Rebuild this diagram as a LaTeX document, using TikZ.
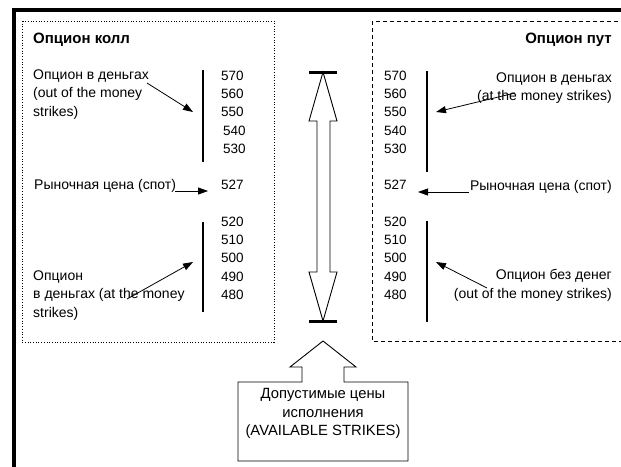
\documentclass[tikz,border=0pt]{standalone}
\usepackage{fontspec}
\setmainfont{Liberation Sans}
\usetikzlibrary{arrows.meta,calc}
\tikzset{
  opt title/.style={font=\fontsize{15}{18.4}\selectfont\bfseries, inner sep=0pt},
  opt text/.style={font=\fontsize{14}{18.4}\selectfont, inner sep=0pt},
  strike/.style={font=\fontsize{13.5}{18.4}\selectfont, inner sep=0pt, anchor=base west},
  strike rule/.style={line width=1.1pt},
  opt arrow/.style={-{Triangle[length=10pt,width=7pt]}, line width=0.8pt},
  call box/.style={dotted, line width=0.7pt},
  put box/.style={dash pattern=on 4pt off 3pt, line width=0.9pt},
  range bar/.style={line width=3pt},
  block/.style={line width=0.9pt, fill=white, line join=miter},
}

\begin{document}
\begin{tikzpicture}[x=1pt, y=-1pt]
  \clip (0,0) rectangle (621,466);
  \fill[white] (0,0) rectangle (621,466);

  % --- outer frame, only its top and left edges are in view ---
  \draw[line width=4pt] (14,9.5) rectangle (700,560);

  % --- call side ---
  \draw[call box] (22,21) rectangle (274,342);
  \node[opt title, anchor=base west] (calltitle) at (33,43) {Опцион колл};

  \foreach \v/\x/\y in {570/221/80, 560/221/98.4, 550/221/116.8, 540/223/135.2, 530/223/153.6,
                        527/221/189, 520/221/226, 510/221/244.4, 500/221/262.8, 490/221/281.2, 480/221/299.6}
    \node[strike] (c\v) at (\x,\y) {\v};

  \coordinate (cuptop) at (203,70);
  \coordinate (cupbot) at (203,162);
  \coordinate (clowtop) at (203,222);
  \coordinate (clowbot) at (203,312);
  \draw[strike rule] (cuptop) -- (cupbot);
  \draw[strike rule] (clowtop) -- (clowbot);

  \node[opt text, align=left, anchor=north west] (callotm) at (33,69.5)
    {Опцион в деньгах\\(out of the money\\strikes)};
  \node[opt text, anchor=base west] (callspot) at (34,189) {Рыночная цена (спот)};
  \node[opt text, align=left, anchor=north west] (callatm) at (33,270.5)
    {Опцион\\в деньгах (at the money\\strikes)};

  \coordinate (cotmtip) at (193,112);
  \coordinate (cspottip) at (208,191);
  \coordinate (catmtip) at (193,262);
  \draw[opt arrow] ($(callotm.north east)+(-2,13.5)$) -- (cotmtip);
  \draw[opt arrow] ($(callspot.base east)+(-1,2)$) -- (cspottip);
  \draw[opt arrow] ($(callatm.north west)+(94,28.5)$) -- (catmtip);

  % --- put side ---
  \draw[put box] (372,21) rectangle (700,341);
  \node[opt title, anchor=base east] (puttitle) at (612,43) {Опцион пут};

  \foreach \v/\y in {570/80, 560/98.4, 550/116.8, 540/135.2, 530/153.6,
                     527/189, 520/226, 510/244.4, 500/262.8, 490/281.2, 480/299.6}
    \node[strike] (p\v) at (384,\y) {\v};

  \coordinate (puptop) at (427,71);
  \coordinate (pupbot) at (427,172);
  \coordinate (plowtop) at (427,221);
  \coordinate (plowbot) at (427,322);
  \draw[strike rule] (puptop) -- (pupbot);
  \draw[strike rule] (plowtop) -- (plowbot);

  \node[opt text, align=right, anchor=north east] (putitm) at (612,72.5)
    {Опцион в деньгах\\(at the money strikes)};
  \node[opt text, anchor=base east] (putspot) at (612,190) {Рыночная цена (спот)};
  \node[opt text, align=right, anchor=north east] (putotm) at (612,269.5)
    {Опцион без денег\\(out of the money strikes)};

  \coordinate (pitmtip) at (436,112);
  \coordinate (pspottip) at (418,192);
  \coordinate (potmtip) at (436,262);
  \draw[opt arrow] ($(putitm.north east)+(-97,20.5)$) -- (pitmtip);
  \draw[opt arrow] ($(putspot.base west)+(-1,2)$) -- (pspottip);
  \draw[opt arrow] ($(putotm.north east)+(-125,18.5)$) -- (potmtip);

  % --- range of strikes: hollow double arrow between two bars ---
  \coordinate (rangetop) at (323,72);
  \coordinate (rangebot) at (323,321);
  \draw[block] (rangetop) -- (337,121) -- (330,121) -- (330,272) -- (337,272) -- (rangebot)
    -- (309,272) -- (317,272) -- (317,121) -- (309,121) -- cycle;
  \draw[range bar] ($(rangetop)+(-14,0)$) -- ($(rangetop)+(14,0)$);
  \draw[range bar] ($(rangebot)+(-14,0)$) -- ($(rangebot)+(14,0)$);

  % --- callout with up arrow ---
  \draw[block] (238,382) -- (302,382) -- (302,367) -- (290,367) -- (323,341) -- (356,367)
    -- (344,367) -- (344,382) -- (408,382) -- (408,461) -- (238,461) -- cycle;
  \node[opt text, font=\fontsize{14.8}{18.5}\selectfont, align=center, anchor=north] (strikes)
    at (323,388.2) {Допустимые цены\\исполнения\\(AVAILABLE STRIKES)};
\end{tikzpicture}
\end{document}
